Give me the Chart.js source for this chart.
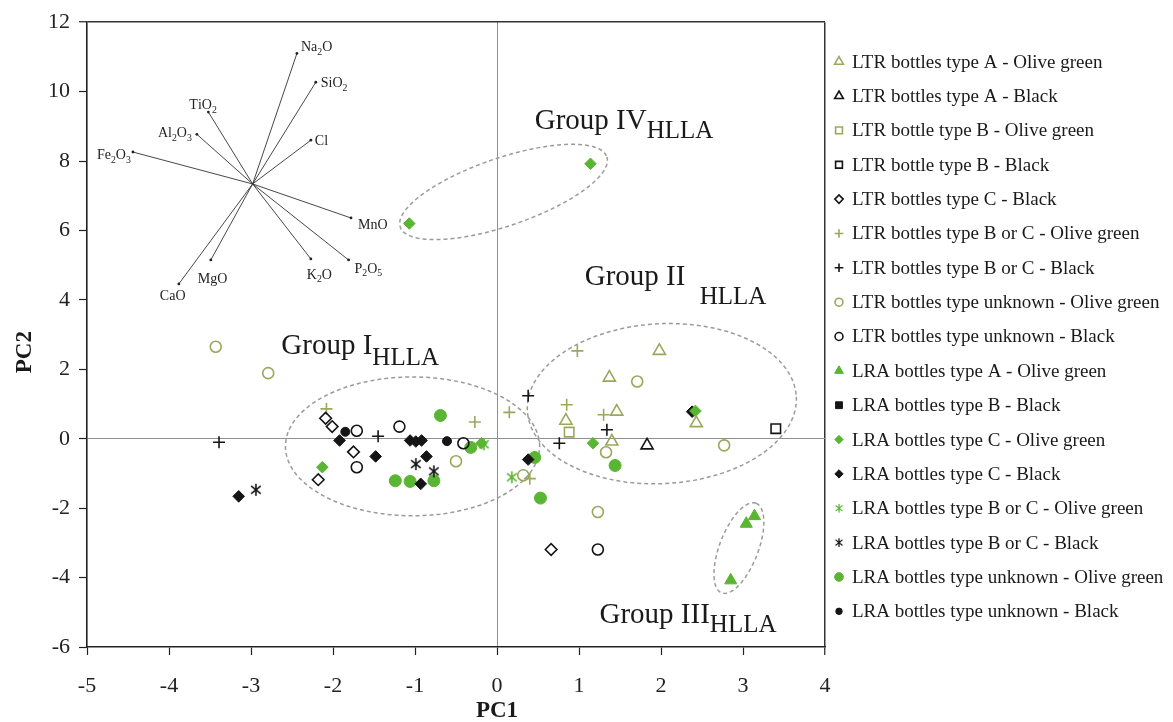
<!DOCTYPE html>
<html>
<head>
<meta charset="utf-8">
<title>PCA biplot - HLLA glass bottles</title>
<script src="https://cdn.jsdelivr.net/npm/chart.js"></script>
<style>
  html, body { margin: 0; padding: 0; background: #fff; }
  #wrap { width: 1173px; height: 722px; }
</style>
</head>
<body>
<div id="wrap"><canvas id="pcaChart" width="1173" height="722"></canvas></div>
<script>
// Series names, in legend order
const seriesNames = [
    'LTR bottles type A - Olive green',
    'LTR bottles type A - Black',
    'LTR bottle type B - Olive green',
    'LTR bottle type B - Black',
    'LTR bottles type C - Black',
    'LTR bottles type B or C - Olive green',
    'LTR bottles type B or C - Black',
    'LTR bottles type unknown - Olive green',
    'LTR bottles type unknown - Black',
    'LRA bottles type A - Olive green',
    'LRA bottles type B - Black',
    'LRA bottles type C - Olive green',
    'LRA bottles type C - Black',
    'LRA bottles type B or C - Olive green',
    'LRA bottles type B or C - Black',
    'LRA bottles type unknown - Olive green',
    'LRA bottles type unknown - Black'
];

// Scores [PC1, PC2]
const ltrTypeAOlive = [[1.98, 2.53], [1.37, 1.76], [1.46, 0.78], [0.84, 0.52], [2.43, 0.45], [1.40, -0.08]];
const ltrTypeABlack = [[1.83, -0.19]];
const ltrTypeBOlive = [[0.88, 0.19]];
const ltrTypeBBlack = [[3.40, 0.29]];
const ltrTypeCBlack = [[-2.09, 0.59], [-2.01, 0.35], [-1.75, -0.38], [-2.18, -1.18], [0.66, -3.19]];
const ltrTypeBCOlive = [[-2.08, 0.86], [-0.27, 0.48], [0.98, 2.53], [0.85, 0.98], [1.30, 0.69], [0.15, 0.76], [0.40, -1.15]];
const ltrTypeBCBlack = [[-3.39, -0.10], [-1.45, 0.07], [0.38, 1.24], [1.34, 0.26], [0.76, -0.13]];
const ltrUnknownOlive = [[-3.43, 2.65], [-2.79, 1.89], [-0.50, -0.65], [1.71, 1.65], [1.33, -0.39], [2.77, -0.19], [0.32, -1.05], [1.23, -2.11]];
const ltrUnknownBlack = [[-1.71, 0.23], [-1.19, 0.35], [-1.71, -0.82], [-0.41, -0.13], [1.23, -3.19]];
const lraTypeAOlive = [[3.14, -2.23], [3.04, -2.45], [2.85, -4.08]];
const lraTypeBBlack = [];
const lraTypeCOlive = [[-1.07, 6.20], [1.14, 7.92], [-2.13, -0.82], [1.17, -0.13], [2.42, 0.80], [-0.19, -0.13]];
const lraTypeCBlack = [[-3.15, -1.66], [-1.92, -0.05], [-1.48, -0.51], [-1.06, -0.05], [-0.99, -0.08], [-0.92, -0.05],
    [-0.86, -0.51], [-0.93, -1.30], [0.38, -0.60], [2.38, 0.78]];
const lraTypeBCOlive = [[0.18, -1.11], [-0.16, -0.16]];
const lraTypeBCBlack = [[-2.94, -1.47], [-0.99, -0.73], [-0.77, -0.94]];
const lraUnknownOlive = [[-0.69, 0.67], [-1.24, -1.21], [-1.06, -1.23], [-0.77, -1.21], [-0.32, -0.25], [0.46, -0.54], [1.44, -0.77], [0.53, -1.71]];
const lraUnknownBlack = [[-0.61, -0.07], [-1.85, 0.20]];

// Loading vectors (end points), all drawn from the same origin
const loadingOrigin = [-2.98, 7.34];
const loadingNames = ['Na2O', 'SiO2', 'TiO2', 'Al2O3', 'Fe2O3', 'Cl', 'MnO', 'P2O5', 'K2O', 'MgO', 'CaO'];
const loadingX = [-2.44, -2.21, -3.52, -3.66, -4.44, -2.27, -1.78, -1.81, -2.27, -3.49, -3.88];
const loadingY = [11.10, 10.27, 9.41, 8.77, 8.26, 8.60, 6.36, 5.15, 5.18, 5.15, 4.46];

// Group outlines: centre and two conjugate semi-axes, in PC units
const groupNames = ['Group I', 'Group II ', 'Group III', 'Group IV'];
const groupCentre = [[-1.03, -0.22], [2.01, 1.01], [2.95, -3.15], [0.08, 7.11]];
const groupAxisU = [[1.55, 0], [1.64, 0.20], [0.21, 1.29], [1.26, 1.01]];
const groupAxisV = [[0, 2.00], [0.05, -2.30], [0.22, -0.20], [0.13, -0.93]];
const groupLabelAt = [[-2.63, 2.45], [1.07, 4.43], [1.25, -5.31], [0.46, 8.92]];

// Axis ranges / ticks
const xRange = [-5, 4];
const yRange = [-6, 12];

// ---- styling ----
const OLIVE = '#9aa85c';
const GREEN = '#5ab532';
const BLACK = '#151515';
const SERIF = "'Liberation Serif', 'Times New Roman', serif";

// Asterisk marker (X with a vertical bar), like the spreadsheet one
function makeAsterisk(color, r) {
    const c = document.createElement('canvas');
    const s = Math.ceil(2 * r + 4);
    c.width = s; c.height = s;
    const g = c.getContext('2d');
    g.strokeStyle = color;
    g.lineWidth = 1.6;
    g.translate(s / 2, s / 2);
    g.beginPath();
    g.moveTo(0, -r); g.lineTo(0, r);
    g.moveTo(-r * 0.8, -r * 0.65); g.lineTo(r * 0.8, r * 0.65);
    g.moveTo(-r * 0.8, r * 0.65); g.lineTo(r * 0.8, -r * 0.65);
    g.stroke();
    return c;
}

function series(idx, data, style, color, filled, radius) {
    return {
        label: seriesNames[idx],
        data: data.map(p => ({ x: p[0], y: p[1] })),
        pointStyle: style,
        pointRadius: radius,
        pointHoverRadius: radius,
        borderColor: color,
        backgroundColor: filled ? color : 'rgba(0,0,0,0)',
        pointBorderWidth: filled ? 1 : 1.6,
        showLine: false
    };
}

const datasets = [
    series(0, ltrTypeAOlive, 'triangle', OLIVE, false, 7),
    series(1, ltrTypeABlack, 'triangle', BLACK, false, 7),
    series(2, ltrTypeBOlive, 'rect', OLIVE, false, 6.7),
    series(3, ltrTypeBBlack, 'rect', BLACK, false, 6.7),
    series(4, ltrTypeCBlack, 'rectRot', BLACK, false, 5.8),
    series(5, ltrTypeBCOlive, 'cross', OLIVE, false, 6),
    series(6, ltrTypeBCBlack, 'cross', BLACK, false, 6),
    series(7, ltrUnknownOlive, 'circle', OLIVE, false, 5.5),
    series(8, ltrUnknownBlack, 'circle', BLACK, false, 5.5),
    series(9, lraTypeAOlive, 'triangle', GREEN, true, 7),
    series(10, lraTypeBBlack, 'rect', BLACK, true, 6.7),
    series(11, lraTypeCOlive, 'rectRot', GREEN, true, 5.8),
    series(12, lraTypeCBlack, 'rectRot', BLACK, true, 5.8),
    series(13, lraTypeBCOlive, makeAsterisk(GREEN, 6), GREEN, false, 6),
    series(14, lraTypeBCBlack, makeAsterisk(BLACK, 6), BLACK, false, 6),
    series(15, lraUnknownOlive, 'circle', GREEN, true, 6),
    series(16, lraUnknownBlack, 'circle', BLACK, true, 4.5)
];

// Chemical formula with subscript digits
function drawFormula(ctx, text, x, y, size) {
    let cx = x;
    for (const ch of text) {
        const sub = /[0-9]/.test(ch);
        ctx.font = (sub ? size * 0.7 : size) + 'px ' + SERIF;
        ctx.fillText(ch, cx, sub ? y + size * 0.25 : y);
        cx += ctx.measureText(ch).width;
    }
}

// label offsets (px) of each loading name from its vector tip
const loadingLabelOffset = [[4, -2], [5, 5], [-19, -3], [-39, 3], [-36, 7], [4, 5], [7, 11], [6, 13], [-4, 20], [-13, 23], [-19, 16]];
const groupSubDrop = [11, 19, 9, 9];
const groupSubGap = [0, 7, 0, 0];

const biplotExtras = {
    id: 'biplotExtras',
    beforeDatasetsDraw(chart) {
        const { ctx, scales: { x, y } } = chart;
        const px = v => x.getPixelForValue(v);
        const py = v => y.getPixelForValue(v);
        ctx.save();

        // dashed group outlines
        ctx.strokeStyle = '#9b9b9b';
        ctx.lineWidth = 1.5;
        ctx.setLineDash([4, 3]);
        groupCentre.forEach((c, i) => {
            ctx.beginPath();
            for (let k = 0; k <= 144; k++) {
                const t = k / 144 * Math.PI * 2;
                const vx = c[0] + groupAxisU[i][0] * Math.cos(t) + groupAxisV[i][0] * Math.sin(t);
                const vy = c[1] + groupAxisU[i][1] * Math.cos(t) + groupAxisV[i][1] * Math.sin(t);
                if (k === 0) ctx.moveTo(px(vx), py(vy)); else ctx.lineTo(px(vx), py(vy));
            }
            ctx.closePath();
            ctx.stroke();
        });
        ctx.setLineDash([]);

        // loading vectors
        const ox = px(loadingOrigin[0]), oy = py(loadingOrigin[1]);
        ctx.strokeStyle = '#333';
        ctx.fillStyle = '#222';
        ctx.lineWidth = 0.9;
        ctx.textBaseline = 'alphabetic';
        loadingNames.forEach((name, i) => {
            const ex = px(loadingX[i]), ey = py(loadingY[i]);
            ctx.beginPath();
            ctx.moveTo(ox, oy);
            ctx.lineTo(ex, ey);
            ctx.stroke();
            ctx.beginPath();
            ctx.arc(ex, ey, 1.4, 0, Math.PI * 2);
            ctx.fill();
            drawFormula(ctx, name, ex + loadingLabelOffset[i][0], ey + loadingLabelOffset[i][1], 14);
        });

        // group labels
        ctx.fillStyle = '#1a1a1a';
        groupNames.forEach((name, i) => {
            const lx = px(groupLabelAt[i][0]), ly = py(groupLabelAt[i][1]);
            ctx.font = '29px ' + SERIF;
            ctx.fillText(name, lx, ly);
            const w = ctx.measureText(name).width;
            ctx.font = '25px ' + SERIF;
            ctx.fillText('HLLA', lx + w + groupSubGap[i], ly + groupSubDrop[i]);
        });
        ctx.restore();
    },
    afterDraw(chart) {
        const { ctx, chartArea } = chart;
        ctx.save();

        // axis titles (placed as in the original figure, not centred on the plot)
        ctx.fillStyle = '#1a1a1a';
        ctx.font = 'bold 23px ' + SERIF;
        ctx.textAlign = 'center';
        ctx.textBaseline = 'middle';
        ctx.fillText('PC1', chart.scales.x.getPixelForValue(0), chartArea.bottom + 64);
        ctx.translate(25, chartArea.top + 330);
        ctx.rotate(-Math.PI / 2);
        ctx.fillText('PC2', 0, 0);
        ctx.setTransform(1, 0, 0, 1, 0, 0);

        // legend to the right of the plot
        const markerX = chartArea.right + 14;
        const textX = chartArea.right + 27;
        const top = 61.7, step = 34.35;
        ctx.textAlign = 'left';
        ctx.font = '19px ' + SERIF;
        chart.data.datasets.forEach((ds, i) => {
            const yy = top + i * step;
            ctx.fillStyle = ds.backgroundColor;
            ctx.strokeStyle = ds.borderColor;
            ctx.lineWidth = ds.pointBorderWidth;
            const r = ds.pointRadius * 0.72;
            if (typeof ds.pointStyle === 'string') {
                Chart.helpers.drawPoint(ctx, { pointStyle: ds.pointStyle, radius: r, rotation: 0, borderWidth: ds.pointBorderWidth }, markerX, yy);
            } else {
                const s = ds.pointStyle.width * 0.72;
                ctx.drawImage(ds.pointStyle, markerX - s / 2, yy - s / 2, s, s);
            }
            ctx.fillStyle = '#1a1a1a';
            ctx.fillText(ds.label, textX, yy + 1);
        });
        ctx.restore();
    }
};

const tickFont = { family: SERIF, size: 22 };

new Chart(document.getElementById('pcaChart'), {
    type: 'scatter',
    data: { datasets: datasets },
    options: {
        responsive: false,
        animation: false,
        layout: { padding: { left: 10, right: 348, top: 20, bottom: 0 } },
        plugins: {
            legend: { display: false },
            tooltip: { enabled: false }
        },
        scales: {
            x: {
                type: 'linear',
                min: xRange[0],
                max: xRange[1],
                ticks: { stepSize: 1, font: tickFont, color: '#222', padding: 18, maxRotation: 0 },
                grid: {
                    color: c => (c.tick && c.tick.value === 0) ? '#8f8f8f' : (c.tick && c.tick.value === xRange[1]) ? '#333' : 'rgba(0,0,0,0)',
                    lineWidth: c => (c.tick && c.tick.value === xRange[1]) ? 1.5 : 1,
                    tickColor: '#222',
                    tickLength: 8,
                    tickWidth: 1.2
                },
                border: { color: '#222', width: 1.6 },
                title: { display: false },
                afterFit: s => { s.height = 75; }
            },
            y: {
                type: 'linear',
                min: yRange[0],
                max: yRange[1],
                ticks: { stepSize: 2, font: tickFont, color: '#222', padding: 9 },
                grid: {
                    color: c => (c.tick && c.tick.value === 0) ? '#8f8f8f' : (c.tick && c.tick.value === yRange[1]) ? '#333' : 'rgba(0,0,0,0)',
                    lineWidth: c => (c.tick && c.tick.value === yRange[1]) ? 1.5 : 1,
                    tickColor: '#222',
                    tickLength: 8,
                    tickWidth: 1.2
                },
                border: { color: '#222', width: 1.6 },
                title: { display: false },
                afterFit: s => { s.width = 77; }
            }
        }
    },
    plugins: [biplotExtras]
});
</script>
</body>
</html>
